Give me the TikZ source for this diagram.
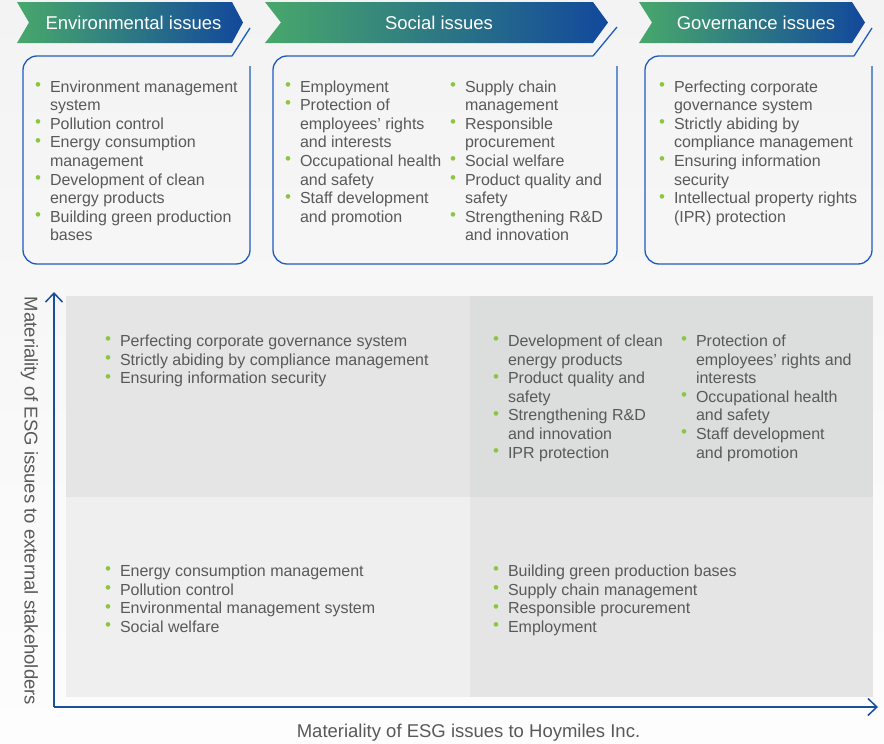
\documentclass[tikz,border=0pt]{standalone}
\usepackage{fontspec}
\setmainfont{Liberation Sans}
\usetikzlibrary{arrows.meta}
\definecolor{txt}{HTML}{595959}
\definecolor{bgreen}{HTML}{8CC63F}
\definecolor{gGreen}{HTML}{48A86B}
\definecolor{gBlue}{HTML}{12489C}
\definecolor{boxblue}{HTML}{1E5CC0}
\definecolor{axisblue}{HTML}{1A4F9C}
\definecolor{qTL}{HTML}{E5E5E5}
\definecolor{qTR}{HTML}{DCDDDD}
\definecolor{qBL}{HTML}{EFEFEF}
\definecolor{qBR}{HTML}{E5E5E5}
\definecolor{bgTop}{HTML}{F3F3F3}
\definecolor{bgBot}{HTML}{FDFDFD}
\newcommand\bl{\makebox[0pt][c]{\textcolor{bgreen}{\fontsize{17}{17}\selectfont\raisebox{1.6pt}{\textbullet}}}\hspace*{12pt}}
\newcommand\ct{\hspace*{12pt}}
\newcommand\blist[1]{\begin{tabular}[t]{@{}l@{}}#1\end{tabular}}
\begin{document}
\begin{tikzpicture}[x=1pt,y=-1pt,
  lst/.style={anchor=base west, inner sep=0pt, outer sep=0pt, text=txt, font=\fontsize{16}{18.6}\selectfont},
  bannertxt/.style={inner sep=0pt, text=white, font=\fontsize{18.5}{20}\selectfont},
  banner/.style={left color=gGreen, right color=gBlue, draw=none},
  boxline/.style={draw=boxblue, line width=1.3pt, rounded corners=14pt},
  diag/.style={draw=boxblue, line width=1.3pt},
  axis/.style={draw=axisblue, line width=1.5pt, -{Straight Barb[length=9pt,width=17pt,line width=1.5pt]}},
  axlabel/.style={inner sep=0pt, text=txt, font=\fontsize{18.5}{20}\selectfont}]
\useasboundingbox (0,0) rectangle (884,744);
\shade[top color=bgTop, bottom color=bgBot] (0,0) rectangle (884,744);

% banners
\shade[banner] (17,2) -- (232,2) -- (243,22.5) -- (232,43) -- (17,43) -- (29,22.5) -- cycle;
\shade[banner] (265,2) -- (593,2) -- (608,22.5) -- (593,43) -- (265,43) -- (281,22.5) -- cycle;
\shade[banner] (639,2) -- (852,2) -- (865,22.5) -- (852,43) -- (639,43) -- (652,22.5) -- cycle;
\node[bannertxt] (h1) at (133.5,22.5) {Environmental issues};
\node[bannertxt] (h2) at (439,22.5) {Social issues};
\node[bannertxt] (h3) at (756,22.5) {Governance issues};

% boxes
\draw[boxline] (250,66) -- (250,264) -- (23,264) -- (23,56) -- (232,56);
\draw[diag] (232,56) -- (250,28);
\draw[boxline] (617,66) -- (617,264) -- (273,264) -- (273,56) -- (593,56);
\draw[diag] (593,56) -- (617,27);
\draw[boxline] (872,66) -- (872,264) -- (645,264) -- (645,56) -- (854,56);
\draw[diag] (854,56) -- (872,28);

\node[lst] (e1) at (38,92) {\blist{\bl Environment management\\ \ct system\\ \bl Pollution control\\ \bl Energy consumption\\ \ct management\\ \bl Development of clean\\ \ct energy products\\ \bl Building green production\\ \ct bases}};
\node[lst] (s1) at (288,92) {\blist{\bl Employment\\ \bl Protection of\\ \ct employees’ rights\\ \ct and interests\\ \bl Occupational health\\ \ct and safety\\ \bl Staff development\\ \ct and promotion}};
\node[lst] (s2) at (453,92) {\blist{\bl Supply chain\\ \ct management\\ \bl Responsible\\ \ct procurement\\ \bl Social welfare\\ \bl Product quality and\\ \ct safety\\ \bl Strengthening R\&D\\ \ct and innovation}};
\node[lst] (g1) at (662,92) {\blist{\bl Perfecting corporate\\ \ct governance system\\ \bl Strictly abiding by\\ \ct compliance management\\ \bl Ensuring information\\ \ct security\\ \bl Intellectual property rights\\ \ct (IPR) protection}};

% quadrants
\fill[qTL] (66,296) rectangle (470,497);
\fill[qTR] (470,296) rectangle (873,497);
\fill[qBL] (66,497) rectangle (470,697);
\fill[qBR] (470,497) rectangle (873,697);

\node[lst] (tl) at (108,346.5) {\blist{\bl Perfecting corporate governance system\\ \bl Strictly abiding by compliance management\\ \bl Ensuring information security}};
\node[lst] (tr1) at (496,346.5) {\blist{\bl Development of clean\\ \ct energy products\\ \bl Product quality and\\ \ct safety\\ \bl Strengthening R\&D\\ \ct and innovation\\ \bl IPR protection}};
\node[lst] (tr2) at (684,346.5) {\blist{\bl Protection of\\ \ct employees’ rights and\\ \ct interests\\ \bl Occupational health\\ \ct and safety\\ \bl Staff development\\ \ct and promotion}};
\node[lst] (bll) at (108,576.5) {\blist{\bl Energy consumption management\\ \bl Pollution control\\ \bl Environmental management system\\ \bl Social welfare}};
\node[lst] (brr) at (496,576.5) {\blist{\bl Building green production bases\\ \bl Supply chain management\\ \bl Responsible procurement\\ \bl Employment}};

% axes
\coordinate (o) at (54,707);
\coordinate (ytip) at (54,292);
\coordinate (xtip) at (878,707);
\draw[axis] (o) -- (ytip);
\draw[axis] (o) -- (xtip);
\node[axlabel, rotate=-90] (ylab) at (29.5,501) {Materiality of ESG issues to external stakeholders};
\node[axlabel] (xlab) at (468.5,733) {Materiality of ESG issues to Hoymiles Inc.};
\end{tikzpicture}
\end{document}
